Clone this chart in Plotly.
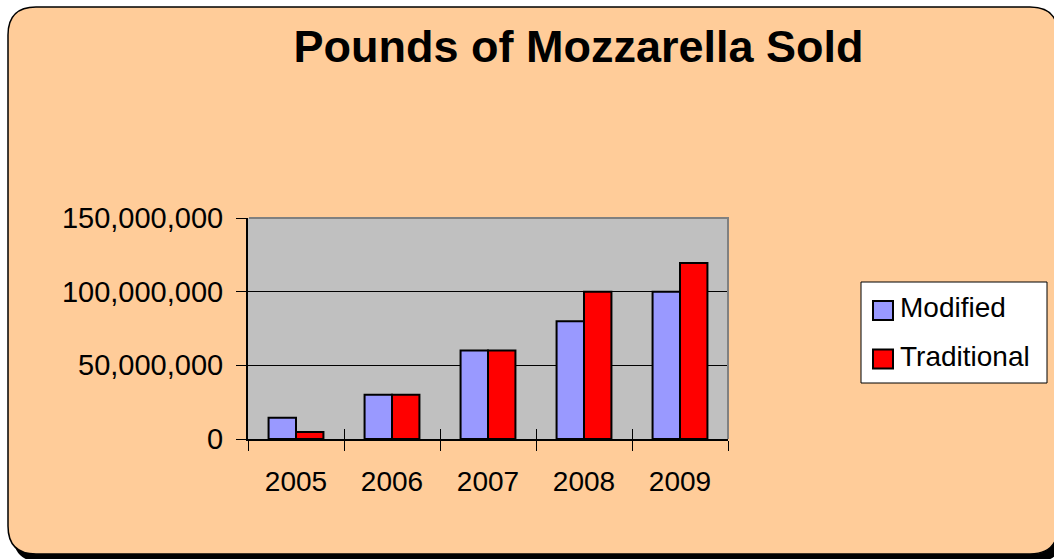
import plotly.graph_objects as go

# ---- data ----
years = ["2005", "2006", "2007", "2008", "2009"]
modified = [14_500_000, 30_000_000, 60_000_000, 80_000_000, 100_000_000]
traditional = [4_800_000, 30_000_000, 60_000_000, 100_000_000, 119_500_000]
series_names = ["Modified", "Traditional"]
y_tick_vals = [0, 50_000_000, 100_000_000, 150_000_000]
title_text = "Pounds of Mozzarella Sold"

# ---- styling ----
W, H = 1054, 559
# plot area, in pixels
SL, SR, ST, SB = 248, 728, 218, 439
FONT = "Liberation Sans, Arial, sans-serif"
C_MOD = "#9999FF"
C_TRAD = "#FF0000"
C_BG = "#FFCC99"
C_PLOT = "#C0C0C0"


def px(x):
    return (x - SL) / (SR - SL)


def py(y):
    return (SB - y) / (SB - ST)


def rounded_rect(x0, y0, x1, y1, r):
    pts = [
        ("M", [(x0 + r, y0)]),
        ("L", [(x1 - r, y0)]),
        ("Q", [(x1, y0), (x1, y0 + r)]),
        ("L", [(x1, y1 - r)]),
        ("Q", [(x1, y1), (x1 - r, y1)]),
        ("L", [(x0 + r, y1)]),
        ("Q", [(x0, y1), (x0, y1 - r)]),
        ("L", [(x0, y0 + r)]),
        ("Q", [(x0, y0), (x0 + r, y0)]),
    ]
    s = ""
    for cmd, ps in pts:
        s += cmd + " ".join(f"{px(a):.5f},{py(b):.5f}" for a, b in ps) + " "
    return s + "Z"


fig = go.Figure()
fig.add_trace(go.Bar(
    x=years, y=modified, name=series_names[0],
    marker=dict(color=C_MOD, line=dict(color="black", width=2)),
    showlegend=False,
))
fig.add_trace(go.Bar(
    x=years, y=traditional, name=series_names[1],
    marker=dict(color=C_TRAD, line=dict(color="black", width=2)),
    showlegend=False,
))
# invisible helper trace so the overlay axis (inner half of crossing ticks) has categories
fig.add_trace(go.Scatter(
    x=years, y=[None] * len(years), xaxis="x2", yaxis="y",
    showlegend=False, hoverinfo="skip", mode="markers",
))

shapes = []
# shadow
shapes.append(dict(type="path", xref="paper", yref="paper", layer="below",
                   path=rounded_rect(13, 12, 1063, 562, 28),
                   fillcolor="black", line=dict(width=0)))
# chart background
shapes.append(dict(type="path", xref="paper", yref="paper", layer="below",
                   path=rounded_rect(8, 7, 1058, 554, 28),
                   fillcolor=C_BG, line=dict(color="black", width=1.5)))
# plot area
shapes.append(dict(type="rect", xref="paper", yref="paper", layer="below",
                   x0=0, x1=1, y0=0, y1=1,
                   fillcolor=C_PLOT, line=dict(width=0)))
# top & right border of plot area (gray)
shapes.append(dict(type="path", xref="paper", yref="paper", layer="above",
                   path=f"M{px(SL+1)},{py(ST)} L{px(SR)},{py(ST)} L{px(SR)},{py(SB)}",
                   line=dict(color="#808080", width=2)))
# legend box
LX0, LY0, LX1, LY1 = 861, 282, 1047, 383
shapes.append(dict(type="rect", xref="paper", yref="paper", layer="above",
                   x0=px(LX0), x1=px(LX1), y0=py(LY1), y1=py(LY0),
                   fillcolor="white", line=dict(color="black", width=1)))
legend_rows = [(series_names[0], C_MOD, 310.5), (series_names[1], C_TRAD, 359)]
annotations = []
for name, col, cy in legend_rows:
    shapes.append(dict(type="rect", xref="paper", yref="paper", layer="above",
                       x0=px(873), x1=px(893), y0=py(cy + 9.5), y1=py(cy - 9.5),
                       fillcolor=col, line=dict(color="black", width=2)))
    annotations.append(dict(xref="paper", yref="paper", x=px(898), y=py(cy - 3),
                            xanchor="left", yanchor="middle", showarrow=False,
                            text=name, font=dict(family=FONT, size=28, color="black")))

fig.update_layout(
    width=W, height=H, autosize=False,
    margin=dict(l=SL, r=W - SR, t=ST, b=H - SB, pad=0),
    paper_bgcolor="white",
    plot_bgcolor="rgba(0,0,0,0)",
    barmode="group", bargap=0.4286, bargroupgap=0,
    showlegend=False,
    title=dict(text=f"<b>{title_text}</b>", x=px(578.5), xref="paper", xanchor="center",
               y=1 - 46 / H, yref="container", yanchor="middle",
               font=dict(family=FONT, size=45, color="black")),
    font=dict(family=FONT, color="black"),
    xaxis=dict(type="category", categoryorder="array", categoryarray=years,
               range=[-0.5, len(years) - 0.5], tickson="boundaries",
               ticks="outside", ticklen=10, tickwidth=1, tickcolor="black",
               showline=True, linecolor="black", linewidth=2, showgrid=False,
               tickfont=dict(family=FONT, size=28, color="black"),
               ticklabelstandoff=16),
    xaxis2=dict(type="category", categoryorder="array", categoryarray=years,
                range=[-0.5, len(years) - 0.5], tickson="boundaries",
                overlaying="x", anchor="y", side="bottom",
                ticks="inside", ticklen=10, tickwidth=1, tickcolor="black",
                showticklabels=False, showline=False, showgrid=False),
    yaxis=dict(range=[0, 150_000_000], tickvals=y_tick_vals, tickformat=",d",
               ticks="outside", ticklen=10, tickwidth=1, tickcolor="black",
               showline=True, linecolor="black", linewidth=2,
               showgrid=True, gridcolor="black", gridwidth=1, zeroline=False,
               tickfont=dict(family=FONT, size=29, color="black"),
               ticklabelstandoff=7),
    shapes=shapes,
    annotations=annotations,
)

# remove the browser's default 8px body margin so the figure fills the window exactly
fig.write_html("out.html",
               config={"displayModeBar": False},
               post_script="document.body.style.margin='0';document.body.style.overflow='hidden';")
